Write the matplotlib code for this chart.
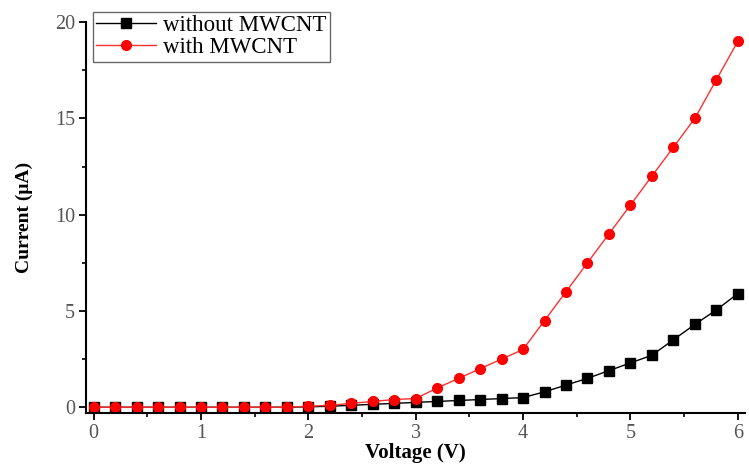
"""I-V curves with and without MWCNT."""

import matplotlib
matplotlib.use("Agg")
import matplotlib.pyplot as plt
from matplotlib.ticker import MultipleLocator

voltage = [0.0, 0.2, 0.4, 0.6, 0.8, 1.0, 1.2, 1.4, 1.6, 1.8, 2.0,
           2.2, 2.4, 2.6, 2.8, 3.0, 3.2, 3.4, 3.6, 3.8, 4.0,
           4.2, 4.4, 4.6, 4.8, 5.0, 5.2, 5.4, 5.6, 5.8, 6.0]
current_without = [0, 0, 0, 0, 0, 0, 0, 0, 0, 0, 0.02,
                   0.05, 0.1, 0.15, 0.2, 0.25, 0.3, 0.35, 0.4, 0.45, 0.5,
                   0.8, 1.15, 1.5, 1.9, 2.3, 2.7, 3.5, 4.3, 5.05, 5.9]
current_with = [0, 0, 0, 0, 0, 0, 0, 0, 0, 0, 0.05,
                0.1, 0.2, 0.3, 0.4, 0.45, 1.0, 1.5, 2.0, 2.5, 3.0,
                4.5, 6.0, 7.5, 9.0, 10.5, 12.0, 13.5, 15.0, 17.0, 19.0]

plt.rcParams["font.family"] = ["Liberation Serif", "DejaVu Serif"]

fig = plt.figure(figsize=(7.49, 4.72), dpi=100)
ax = fig.add_axes([0.115, 0.125, 0.88, 0.828])

ax.plot(voltage, current_without, color="black", marker="s", markersize=7,
        lw=1, label="without MWCNT")
ax.plot(voltage, current_with, color="#ff3030", marker="o", markersize=7,
        markerfacecolor="red", markeredgecolor="red", lw=1, label="with MWCNT")

ax.set_xlim(-0.07, 6.07)
ax.set_ylim(-0.3, 20)
ax.xaxis.set_major_locator(MultipleLocator(1))
ax.xaxis.set_minor_locator(MultipleLocator(0.5))
ax.yaxis.set_major_locator(MultipleLocator(5))
ax.yaxis.set_minor_locator(MultipleLocator(2.5))
ax.spines["top"].set_visible(False)
ax.spines["right"].set_visible(False)
ax.spines["left"].set_linewidth(1.5)
ax.spines["bottom"].set_linewidth(1.5)
ax.tick_params(which="major", direction="out", length=5, width=1.3,
               labelsize=14.5, labelcolor="#555555", pad=3)
ax.tick_params(which="minor", direction="out", length=3, width=1.2)

ax.set_xlabel("Voltage (V)", fontsize=15, fontweight="bold", labelpad=0)
ax.set_ylabel("Current (\u03bcA)", fontsize=14, fontweight="bold", labelpad=16)

leg = ax.legend(loc="upper left", bbox_to_anchor=(0.124, 0.975),
                bbox_transform=fig.transFigure, fontsize=16.5, frameon=True,
                fancybox=False, borderpad=0.15, labelspacing=0.05,
                handlelength=2.6, handletextpad=0.3, borderaxespad=0)
leg.get_frame().set_edgecolor("#444444")
leg.get_frame().set_linewidth(1)

fig.savefig("out.png", dpi=100)
